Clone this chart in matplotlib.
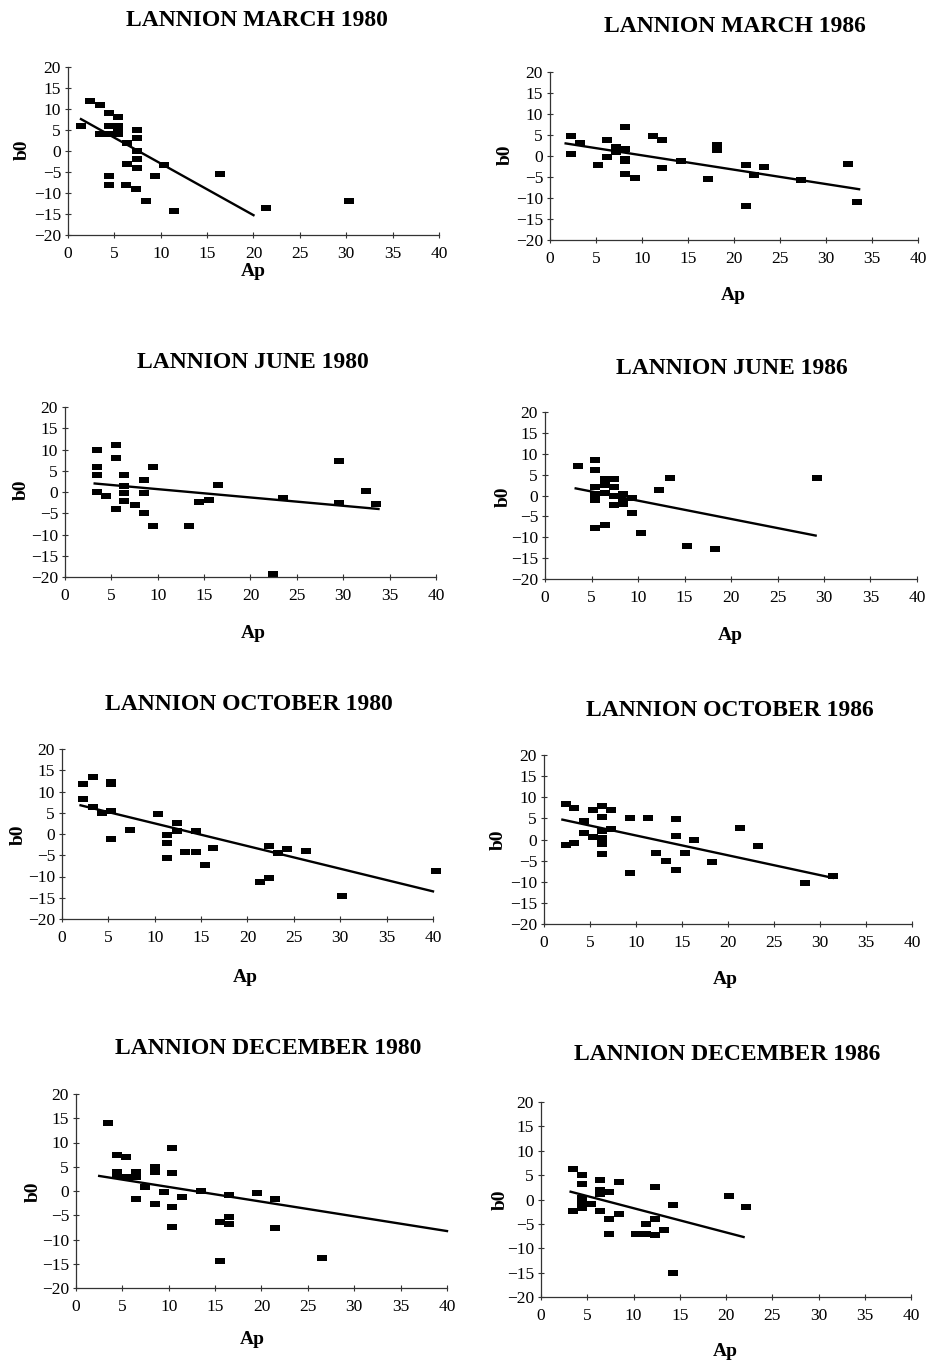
import matplotlib
matplotlib.use("Agg")
import matplotlib.pyplot as plt
from matplotlib.path import Path

plt.rcParams['font.family'] = ['Liberation Serif', 'DejaVu Serif']

# ---- data: Ap index vs b0 for Lannion ----

mar80_ap = [1.4, 2.4, 3.5, 3.4, 4.4, 4.4, 4.4, 4.4, 4.4, 5.4, 5.4, 5.4, 5.4, 5.4,
            6.4, 6.4, 6.3, 7.4, 7.4, 7.4, 7.4, 7.4, 7.3, 8.4, 9.4, 10.3, 11.4,
            16.4, 21.3, 30.3]
mar80_b0 = [6, 12, 11, 4, 9, 6, 4, -6, -8, 8, 6, 5, 4.5, 4,
            2, -3, -8, 5, 3, 0, -2, -4, -9, -12, -6, -3.3, -14.3,
            -5.4, -13.5, -11.8]
mar80_fit = [9.32, -1.23, 1.4, 20.0]   # intercept, slope, x from, x to

mar86_ap = [2.3, 2.3, 3.3, 5.2, 6.2, 6.2, 7.2, 7.2, 8.2, 8.2, 8.2, 8.2, 8.2, 9.2,
            11.2, 12.2, 12.2, 14.2, 17.2, 18.2, 18.2, 21.3, 21.3, 22.2, 23.3,
            27.3, 32.4, 33.4]
mar86_b0 = [4.8, 0.4, 3, -2.1, 3.8, -0.2, 2.2, 0.9, 6.9, 1.7, -0.8, -1.3, -4.2, -5.3,
            4.8, 3.7, -2.8, -1.3, -5.5, 2.6, 1.5, -2.1, -11.8, -4.5, -2.7,
            -5.8, -1.8, -11]
mar86_fit = [3.58, -0.342, 1.7, 33.6]

jun80_ap = [3.4, 3.4, 3.4, 3.4, 4.4, 5.5, 5.5, 5.5, 6.4, 6.4, 6.4, 6.4, 7.5, 8.5,
            8.5, 8.5, 9.5, 9.5, 13.4, 14.5, 15.5, 16.5, 22.4, 23.5, 29.5, 29.5,
            32.5, 33.5]
jun80_b0 = [10, 6, 4, 0, -1, 11, 8, -4, 4, 1.5, -0.2, -2.2, -3, 2.8,
            -0.2, -5, 5.9, -8, -8.1, -2.3, -1.8, 1.7, -19.4, -1.5, 7.4, -2.7,
            0.3, -2.8]
jun80_fit = [2.63, -0.196, 3.2, 33.8]

jun86_ap = [3.5, 5.4, 5.4, 5.4, 5.4, 5.4, 5.4, 5.4, 6.4, 6.4, 6.4, 6.4, 7.4, 7.4,
            7.4, 7.4, 8.4, 8.4, 8.4, 9.4, 9.4, 10.3, 12.3, 13.4, 15.3, 18.3, 29.3]
jun86_b0 = [7, 8.5, 6, 2, 0.4, -0.4, -1, -7.8, 4, 2.5, 0.6, -7, 4, 2,
            0, -2.2, 0.4, -1.2, -2, -0.7, -4.1, -9, 1.4, 4.2, -12.2, -12.7, 4.3]
jun86_fit = [3.15, -0.438, 3.3, 29.1]

oct80_ap = [2.3, 2.3, 3.3, 3.3, 4.3, 5.3, 5.3, 5.3, 5.3, 7.3, 10.3, 11.3, 11.3,
            11.3, 12.4, 12.4, 13.3, 14.4, 14.4, 15.4, 16.3, 21.3, 22.3, 22.3,
            23.3, 24.3, 26.3, 30.2, 40.3]
oct80_b0 = [11.8, 8.3, 13.3, 6.4, 5, 12.2, 11.7, 5.3, -1.1, 0.9, 4.7, -0.2, -2.2,
            -5.6, 2.7, 0.8, -4.2, 0.7, -4.2, -7.3, -3.4, -11.4, -10.3, -2.9,
            -4.5, -3.5, -4, -14.5, -8.8]
oct80_fit = [7.82, -0.533, 2.0, 40.0]

oct86_ap = [2.4, 2.4, 3.3, 3.3, 4.3, 4.3, 5.3, 5.3, 6.3, 6.3, 6.3, 6.3, 6.3, 6.3,
            7.3, 7.3, 9.3, 9.3, 11.3, 12.2, 13.3, 14.3, 14.3, 14.3, 15.3, 16.3,
            18.3, 21.3, 23.3, 28.4, 31.4]
oct86_b0 = [8.5, -1.4, 7.5, -0.9, 4.3, 1.6, 7, 0.5, 8, 5.4, 2.1, 0.4, -1, -3.5,
            7, 2.4, 5, -8, 5, -3.1, -5.1, 4.8, 0.9, -7.2, -3.1, -0.2,
            -5.3, 2.7, -1.5, -10.4, -8.6]
oct86_fit = [5.64, -0.469, 2.0, 31.4]

dec80_ap = [3.5, 4.4, 4.4, 4.4, 5.4, 5.4, 6.5, 6.5, 6.5, 7.4, 8.5, 8.5, 8.5, 9.5,
            10.4, 10.4, 10.4, 10.4, 11.4, 13.5, 15.5, 15.5, 16.5, 16.5, 16.5,
            19.5, 21.5, 21.5, 26.5]
dec80_b0 = [14, 7.5, 4, 3, 7, 2.9, 3.9, 2.9, -1.6, 0.8, 4.9, 3.9, -2.7, -0.2,
            8.9, 3.8, -3.2, -7.4, -1.3, 0.1, -6.4, -14.4, -0.9, -5.4, -6.9,
            -0.5, -1.6, -7.6, -13.8]
dec80_fit = [3.86, -0.303, 2.5, 40.0]

dec86_ap = [3.5, 3.5, 4.4, 4.4, 4.4, 4.4, 4.4, 4.4, 5.4, 6.4, 6.4, 6.4, 6.4, 7.4,
            7.4, 7.4, 8.4, 8.4, 10.3, 11.3, 11.3, 12.3, 12.3, 12.3, 13.3, 14.3,
            14.3, 20.3, 22.2]
dec86_b0 = [6.2, -2.3, 5.1, 3.1, 0.3, -0.3, -1.1, -1.8, -0.9, 4.1, 2, 1.1, -2.3, 1.6,
            -3.9, -7.1, 3.6, -2.9, -7.1, -7.1, -5.1, 2.5, -4, -7.3, -6.2, -1.2,
            -15.1, 0.7, -1.5]
dec86_fit = [3.19, -0.497, 3.2, 21.9]

W, H = 929, 1363
fig = plt.figure(figsize=(W / 100, H / 100), dpi=100)
fig.patch.set_facecolor("white")

# small flat rectangle used as the point marker
dash = Path([(-1, -0.55), (1, -0.55), (1, 0.55), (-1, 0.55), (-1, -0.55)],
            [Path.MOVETO, Path.LINETO, Path.LINETO, Path.LINETO, Path.CLOSEPOLY])


def panel(box, ap, b0, fit, title, title_xy, b0_xy, ap_xy):
    # box = left, right, top, bottom in pixels
    l, r, t, b = box
    ax = fig.add_axes([l / W, 1 - b / H, (r - l) / W, (b - t) / H])
    ax.plot(ap, b0, linestyle="none", marker=dash, markersize=7.5,
            color="black", markeredgewidth=0, clip_on=False)
    a, k, x0, x1 = fit
    ax.plot([x0, x1], [a + k * x0, a + k * x1], color="black", lw=1.7,
            clip_on=False)
    ax.set_xlim(0, 40)
    ax.set_ylim(-20, 20)
    ax.set_xticks(range(0, 41, 5))
    ax.set_yticks(range(-20, 21, 5))
    for s in ["top", "right"]:
        ax.spines[s].set_visible(False)
    for s in ["left", "bottom"]:
        ax.spines[s].set_linewidth(0.9)
        ax.spines[s].set_color("#333333")
    ax.tick_params(axis="both", direction="inout", length=4, width=0.8,
                   color="#333333", labelsize=12.5)
    ax.tick_params(axis="x", pad=6)
    ax.tick_params(axis="y", pad=3)
    fig.text(title_xy[0] / W, 1 - title_xy[1] / H, title, ha="center",
             va="center", fontsize=17, fontweight="bold")
    fig.text(b0_xy[0] / W, 1 - b0_xy[1] / H, "b0", ha="center", va="center",
             rotation=90, fontsize=14, fontweight="bold")
    fig.text(ap_xy[0] / W, 1 - ap_xy[1] / H, "Ap", ha="center", va="center",
             fontsize=14, fontweight="bold")
    return ax


panel((68, 439, 67, 235), mar80_ap, mar80_b0, mar80_fit,
      "LANNION MARCH 1980", (257, 21), (22, 150), (253, 271))
panel((550, 918, 72, 240), mar86_ap, mar86_b0, mar86_fit,
      "LANNION MARCH 1986", (735, 26), (505, 155), (733, 295))
panel((65, 436, 407, 577), jun80_ap, jun80_b0, jun80_fit,
      "LANNION JUNE 1980", (253, 363), (21, 490), (253, 634))
panel((545, 917, 412, 579), jun86_ap, jun86_b0, jun86_fit,
      "LANNION JUNE 1986", (732, 369), (503, 497), (730, 636))
panel((62, 433, 749, 919), oct80_ap, oct80_b0, oct80_fit,
      "LANNION OCTOBER 1980", (249, 705), (18, 835), (245, 978))
panel((544, 912, 755, 924), oct86_ap, oct86_b0, oct86_fit,
      "LANNION OCTOBER 1986", (730, 710), (498, 840), (725, 980))
panel((76, 447, 1094, 1288), dec80_ap, dec80_b0, dec80_fit,
      "LANNION DECEMBER 1980", (268, 1049), (33, 1192), (252, 1340))
panel((541, 911, 1102, 1297), dec86_ap, dec86_b0, dec86_fit,
      "LANNION DECEMBER 1986", (727, 1054), (500, 1200), (725, 1352))

fig.savefig("out.png", dpi=100)
